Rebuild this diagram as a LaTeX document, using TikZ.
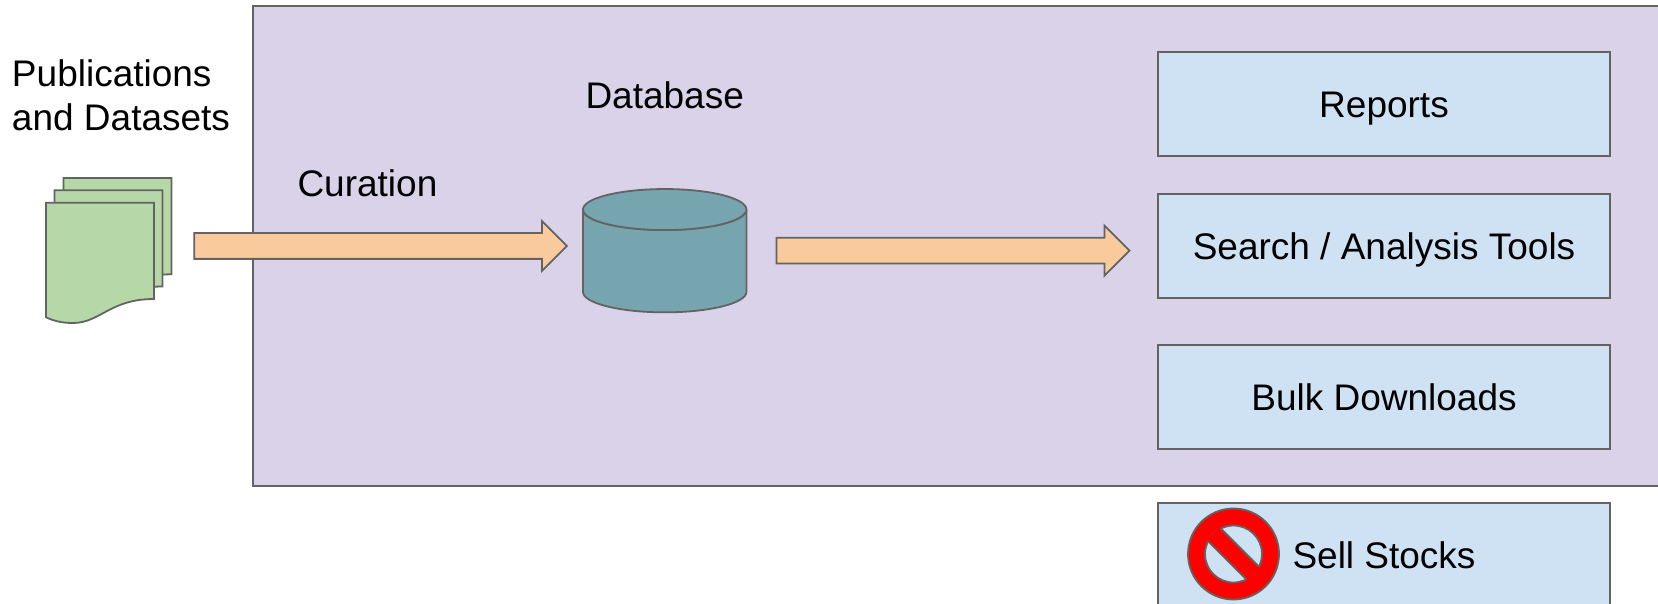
\documentclass[tikz,border=0pt]{standalone}
\usepackage{fontspec}
\setmainfont{Liberation Sans}
\usetikzlibrary{positioning,shapes.geometric,shapes.arrows}

\definecolor{panelpurple}{HTML}{D9D2E9}
\definecolor{boxblue}{HTML}{CFE2F3}
\definecolor{docgreen}{HTML}{B6D7A8}
\definecolor{arroworange}{HTML}{F9CB9C}
\definecolor{dbteal}{HTML}{76A5AF}
\definecolor{edgegray}{HTML}{636363}

\begin{document}
\begin{tikzpicture}[
	x=1pt, y=-1pt,
	every node/.style={font=\fontsize{37}{44}\selectfont, inner sep=0pt, outer sep=0pt},
	edge/.style={draw=edgegray, line width=1.8pt},
	panel/.style={rectangle, edge, fill=panelpurple, minimum width=1447pt, minimum height=480pt},
	tool/.style={rectangle, edge, fill=boxblue, minimum width=452pt, minimum height=104pt, text height=27.4pt, text depth=0pt},
	sheet/.style={edge, fill=docgreen},
	blockarrow/.style={single arrow, edge, fill=arroworange, inner ysep=12pt, inner xsep=0pt, single arrow head extend=12pt, single arrow tip angle=90, single arrow head indent=0pt},
	store/.style={rectangle, minimum height=123.3pt, minimum width=163.5pt},
	caption/.style={align=left}
	]
	\useasboundingbox (0,0) rectangle (1658,604);

	\node (platform) [panel] at (976.5,245.7) {};

	\foreach \dx/\dy in {17.5/-24.7, 8.5/-12.5, 0/0}
		\draw [sheet, shift={(\dx,\dy)}] (46,202.7) -- (154,202.7) -- (154,299) .. controls (110,299) and (100,323) .. (73,323) .. controls (62,323) and (54,321) .. (46,317.3) -- cycle;

	\node (sources) [caption, anchor=base west] at (12,130.3) {Publications\\and Datasets};

	\node (database) [store] at (664.7,250.7) {};
		\coordinate (dbtop) at ([yshift=-20.5pt]database.north);
		\draw [edge, fill=dbteal] ([yshift=-20.5pt]database.north west) arc [start angle=180, end angle=360, x radius=81.75pt, y radius=20.5pt] -- ([yshift=20.5pt]database.south east) arc [start angle=0, end angle=-180, x radius=81.75pt, y radius=20.5pt] -- cycle;
		\draw [edge, fill=dbteal] (dbtop) ellipse [x radius=81.75pt, y radius=20.5pt];
		\node (dblabel) [caption, above=80pt of database.north] {Database};
		\node (curationarrow) [blockarrow, minimum height=372.6pt, left=16pt of database.west, yshift=4.7pt] {};
		\node (curation) [caption, anchor=base west] at (297.5,196.5) {Curation};

	\node (reports) [tool] at (1384,104) {Reports};
		\node (search) [tool, below=38pt of reports] {Search / Analysis Tools};
		\node (bulk) [tool, below=47pt of search] {Bulk Downloads};
		\node (sell) [tool, below=54pt of bulk] {Sell Stocks};

	\node (servearrow) [blockarrow, minimum height=353pt, right=30pt of database.east] {};

	\node (nosign) [circle, edge, fill=red, minimum size=91pt] at (1233.5,554) {};
		\node (nohole) [circle, edge, fill=boxblue, minimum size=57pt] at (nosign) {};
		\node (nobar) [rectangle, fill=red, rotate=-45, minimum width=58pt, minimum height=18pt] at (nosign) {};
	\draw [edge, shorten <=2pt, shorten >=2pt] (nobar.north west) -- (nobar.north east);
	\draw [edge, shorten <=2pt, shorten >=2pt] (nobar.south west) -- (nobar.south east);

	\end{tikzpicture}
\end{document}
